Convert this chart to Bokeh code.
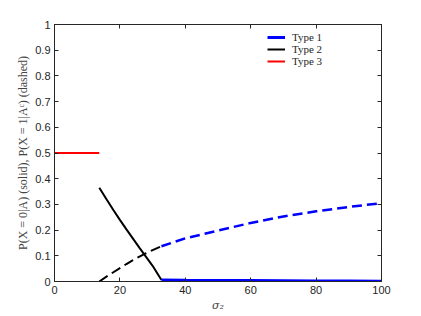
from bokeh.plotting import figure
from bokeh.models import LinearAxis, Legend, LegendItem, FixedTicker, Range1d, CustomJSTickFormatter
from bokeh.embed import file_html
from bokeh.resources import INLINE

# ---- data ----
sigma_type3 = [0, 13.7]
p_type3 = [0.5, 0.5]

sigma_type2 = [13.7, 16, 18, 20, 22, 24, 26, 28, 30, 32.7]
p0_type2 = [0.365, 0.318, 0.278, 0.240, 0.203, 0.167, 0.131, 0.096, 0.061, 0.006]
p1_type2 = [0.0, 0.020, 0.036, 0.052, 0.068, 0.083, 0.097, 0.110, 0.122, 0.137]

sigma_type1 = [32.7, 40, 50, 60, 70, 80, 90, 100]
p0_type1 = [0.006, 0.005, 0.004, 0.0035, 0.003, 0.002, 0.0015, 0.001]
p1_type1 = [0.137, 0.168, 0.198, 0.228, 0.253, 0.273, 0.290, 0.305]

x_ticks = [0, 20, 40, 60, 80, 100]
y_ticks = [0, 0.1, 0.2, 0.3, 0.4, 0.5, 0.6, 0.7, 0.8, 0.9, 1.0]

BLUE = "#0000ff"
BLACK = "#000000"
RED = "#ff0000"
AX = "#262626"

p = figure(width=421, height=316, output_backend="svg", toolbar_location=None,
           x_range=Range1d(0, 100), y_range=Range1d(0, 1),
           min_border_left=54, min_border_right=40, min_border_top=24, min_border_bottom=35)
p.xgrid.visible = False
p.ygrid.visible = False
p.outline_line_color = AX
p.outline_line_width = 1

def style_axis(ax, ticks, show_labels=True):
    ax.ticker = FixedTicker(ticks=ticks)
    ax.major_tick_in = 4
    ax.major_tick_out = 0
    ax.minor_tick_line_color = None
    ax.axis_line_color = AX
    ax.major_tick_line_color = AX
    ax.major_label_text_color = AX
    ax.major_label_text_font = "Liberation Sans"
    ax.major_label_text_font_size = "11px"
    ax.major_label_standoff = 4
    if not show_labels:
        ax.formatter = CustomJSTickFormatter(code="return ''")
        ax.major_label_standoff = 0

style_axis(p.xaxis[0], x_ticks)
style_axis(p.yaxis[0], y_ticks)
p.xaxis[0].axis_label = "σ₂"
p.xaxis[0].axis_label_text_font = "DejaVu Serif"
p.xaxis[0].axis_label_text_font_style = "italic"
p.xaxis[0].axis_label_text_font_size = "11px"
p.xaxis[0].axis_label_standoff = 2
p.yaxis[0].axis_label = "P(X = 0|A) (solid), P(X = 1|Aᶜ) (dashed)"
p.yaxis[0].axis_label_text_font = "Liberation Serif"
p.yaxis[0].axis_label_text_font_style = "normal"
p.yaxis[0].axis_label_text_font_size = "12px"
p.yaxis[0].axis_label_standoff = 2

top = LinearAxis()
right = LinearAxis()
style_axis(top, x_ticks, show_labels=False)
style_axis(right, y_ticks, show_labels=False)
p.add_layout(top, "above")
p.add_layout(right, "right")

r3 = p.line(sigma_type3, p_type3, line_color=RED, line_width=2)
r2 = p.line(sigma_type2, p0_type2, line_color=BLACK, line_width=2)
p.line(sigma_type2, p1_type2, line_color=BLACK, line_width=2, line_dash="10 5")
r1 = p.line(sigma_type1, p0_type1, line_color=BLUE, line_width=3)
p.line(sigma_type1, p1_type1, line_color=BLUE, line_width=2.5, line_dash="10 5")

legend = Legend(items=[LegendItem(label="Type 1", renderers=[r1]),
                       LegendItem(label="Type 2", renderers=[r2]),
                       LegendItem(label="Type 3", renderers=[r3])],
                location=(213, 214))
legend.border_line_color = None
legend.background_fill_alpha = 0
legend.padding = 0
legend.margin = 0
legend.spacing = 0
legend.label_height = 12
legend.glyph_height = 12
legend.glyph_width = 18
legend.label_standoff = 7
legend.label_text_font = "Liberation Serif"
legend.label_text_font_size = "11px"
legend.label_text_color = AX
p.add_layout(legend, "center")

open("out.html", "w").write(file_html(p, INLINE))
